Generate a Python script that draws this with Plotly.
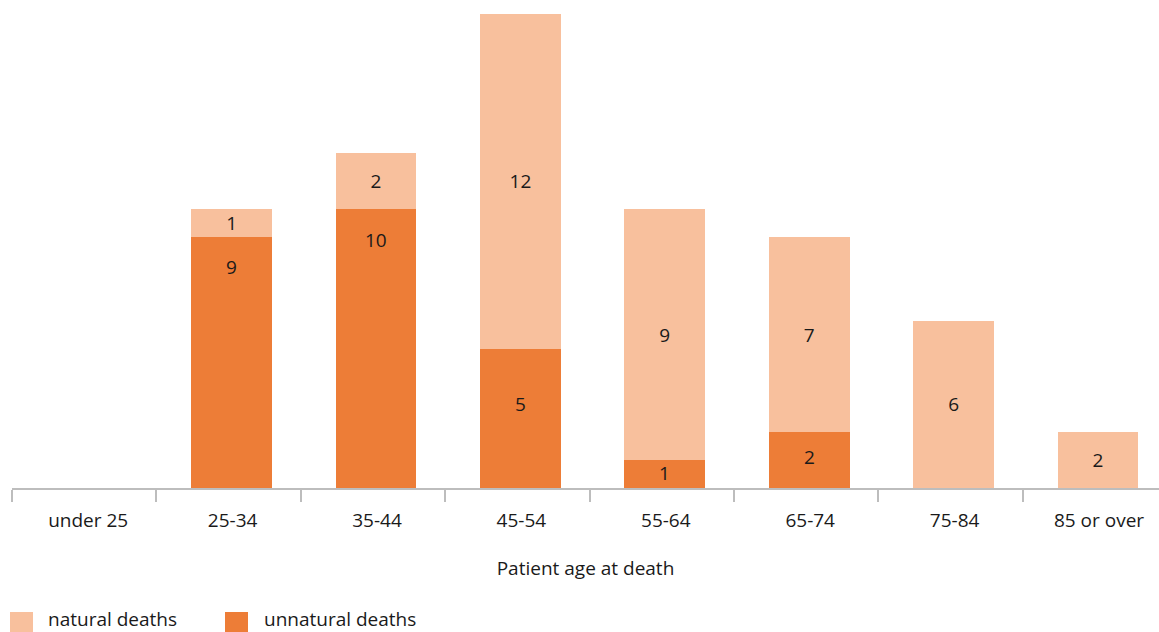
import plotly.graph_objects as go

# Deaths by patient age band
age_bands = ["under 25", "25-34", "35-44", "45-54", "55-64", "65-74", "75-84", "85 or over"]
unnatural = [0, 9, 10, 5, 1, 2, 0, 0]
natural = [0, 1, 2, 12, 9, 7, 6, 2]

# Where each unnatural-deaths label sits, as a fraction of its bar's height
unnatural_label_frac = [0.5, 0.88, 0.89, 0.6, 0.54, 0.56, 0.5, 0.5]

LIGHT = "#F8C09D"
DARK = "#ED7D37"
FONT = "Open Sans"
FS = 19
TEXT = "#1a1a1a"
AXIS = "#bdbdbd"

CAT_PX = 144.4          # pixel width of one category band
SHIFT = 3 / CAT_PX      # bars and labels sit slightly right of the band centre
BAR_W = 0.56


def labels(vals):
    return [str(v) if v else "" for v in vals]


fig = go.Figure()
fig.add_trace(go.Bar(
    x=age_bands, y=unnatural, name="unnatural deaths", marker_color=DARK,
    marker_line_width=0, width=BAR_W, offset=-BAR_W / 2 + SHIFT,
    hoverinfo="x+y+name",
))
fig.add_trace(go.Bar(
    x=age_bands, y=natural, name="natural deaths", marker_color=LIGHT,
    marker_line_width=0, width=BAR_W, offset=-BAR_W / 2 + SHIFT,
    text=labels(natural), textposition="inside", insidetextanchor="middle",
    textfont=dict(family=FONT, size=FS, color=TEXT), textangle=0,
))

# Value labels for the unnatural-deaths segments
for i, (band, v) in enumerate(zip(age_bands, unnatural)):
    if v:
        fig.add_annotation(x=i + SHIFT, y=v * unnatural_label_frac[i], text=str(v),
                           showarrow=False, xanchor="center", yanchor="middle",
                           font=dict(family=FONT, size=FS, color=TEXT))

fig.update_layout(
    barmode="stack",
    width=1159, height=632,
    margin=dict(l=12, r=0, t=14, b=144),
    plot_bgcolor="white", paper_bgcolor="white",
    showlegend=False,
    uniformtext=dict(minsize=FS, mode="show"),
    font=dict(family=FONT, size=FS, color=TEXT),
    xaxis=dict(
        type="category",
        range=[-0.5, -0.5 + 1147 / CAT_PX],
        showline=True, linecolor=AXIS, linewidth=2,
        ticks="outside", tickson="boundaries", ticklen=12, tickwidth=2,
        tickcolor=AXIS, ticklabelstandoff=14, ticklabelshift=4,
        tickfont=dict(family=FONT, size=FS, color=TEXT),
        showgrid=False, zeroline=False,
        title=dict(text="Patient age at death", standoff=30,
                   font=dict(family=FONT, size=FS, color=TEXT)),
    ),
    yaxis=dict(range=[0, 17], visible=False, showgrid=False, zeroline=False),
)

# Legend: swatches drawn as paper-anchored squares with the series names beside them
PLOT_W, PLOT_H, BASE = 1147, 474, 488
legend_items = [("natural deaths", LIGHT, 10, 46), ("unnatural deaths", DARK, 225, 262)]
for name, colour, sx, tx in legend_items:
    fig.add_shape(type="rect", xref="paper", yref="paper",
                  x0=(sx - 12) / PLOT_W, x1=(sx + 23 - 12) / PLOT_W,
                  y0=(BASE - 634) / PLOT_H, y1=(BASE - 612) / PLOT_H,
                  fillcolor=colour, line_width=0, layer="above")
    fig.add_annotation(text=name, xref="paper", yref="paper",
                       x=(tx - 12) / PLOT_W, y=(BASE - 619) / PLOT_H,
                       xanchor="left", yanchor="middle", showarrow=False,
                       font=dict(family=FONT, size=FS, color=TEXT))

fig.write_html("out.html")
